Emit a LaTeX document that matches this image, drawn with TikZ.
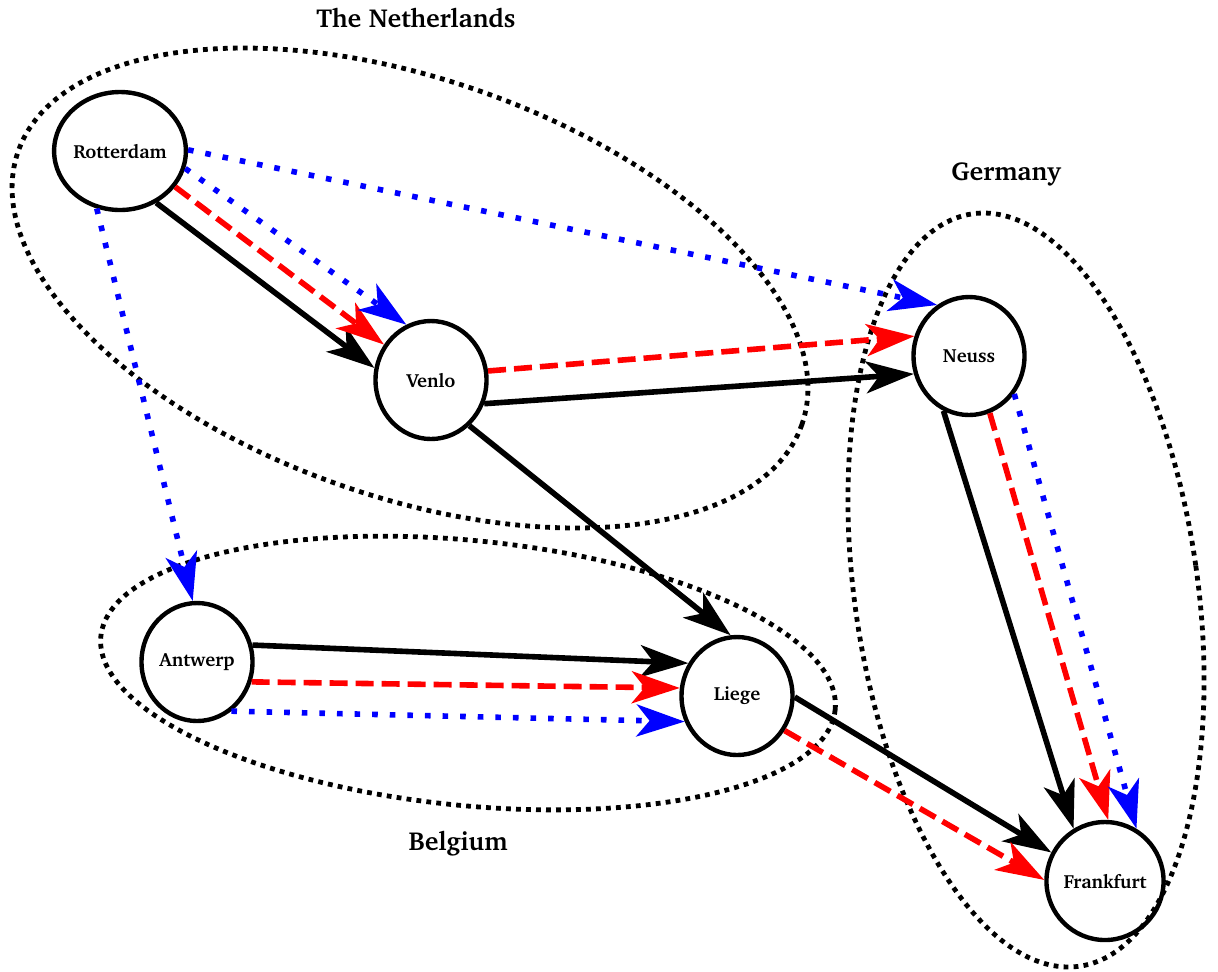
\documentclass[tikz,border=0pt]{standalone}
\usepackage[T1]{fontenc}
\usepackage{charter}
\usetikzlibrary{arrows.meta, shapes.geometric}
\tikzstyle{arrow} = [line width=2.8pt, -{Stealth[length=24pt, width=16pt, inset=6.5pt]}]
\tikzstyle{blackline} = [arrow, draw=black]
\tikzstyle{redline} = [arrow, draw=red, dash pattern=on 9pt off 4pt]
\tikzstyle{blueline} = [arrow, draw=blue, dash pattern=on 2.8pt off 6pt]
\tikzstyle{city} = [ellipse, draw=black, line width=2.2pt, minimum width=55.5pt, minimum height=59pt, inner sep=0pt, font=\bfseries\fontsize{9.5}{11}\selectfont]
\tikzstyle{country} = [draw=black, line width=2.4pt, dash pattern=on 2.4pt off 2.6pt]
\tikzstyle{title} = [font=\bfseries\fontsize{13}{15}\selectfont]

\begin{document}
\begin{tikzpicture}[x=0.5pt, y=-0.5pt]
\useasboundingbox (0,0) rectangle (1218,971);
% Placement of city nodes
\node (rotterdam) [city] at (120,151) {Rotterdam};
\node (venlo) [city] at (431,380) {Venlo};
\node (neuss) [city] at (969,356) {Neuss};
\node (antwerp) [city] at (197,662) {Antwerp};
\node (liege) [city] at (737,696) {Liege};
\node (frankfurt) [city] at (1105,881) {Frankfurt};

% Countries
\node (netherlands) [title] at (416,18) {The Netherlands};
\node (germany) [title] at (1006,174) {Germany};
\node (belgium) [title] at (458,843) {Belgium};
\draw [country] (410,288) circle [x radius=415, y radius=209, rotate=-19.2];
\draw [country] (1026,590) circle [x radius=171.5, y radius=380, rotate=8.1];
\draw [country] (468,673) circle [x radius=369, y radius=132.5, rotate=-5.7];

% Drawing of black lines
\draw [blackline] (rotterdam.-55) -- (venlo.168);
\draw [blackline] (venlo.-24) -- (neuss.198);
\draw [blackline] (venlo.-50) -- (liege.96);
\draw [blackline] (antwerp.17) -- (liege.146);
\draw [blackline] (neuss.245) -- (frankfurt.121);
\draw [blackline] (liege.-1) -- (frankfurt.152);

% Drawing of red lines
\draw [redline] (rotterdam.-33) -- (venlo.143);
\draw [redline] (venlo.9) -- (neuss.160);
\draw [redline] (antwerp.-20) -- (liege.172);
\draw [redline] (neuss.290) -- (frankfurt.87);
\draw [redline] (liege.-36) -- (frankfurt.179);

% Drawing of blue lines
\draw [blueline] (rotterdam.-15) -- (venlo.114);
\draw [blueline] (rotterdam.1) -- (neuss.122);
\draw [blueline] (rotterdam.-112) -- (antwerp.94);
\draw [blueline] (antwerp.-55) -- (liege.206);
\draw [blueline] (neuss.320) -- (frankfurt.59);

\end{tikzpicture}
\end{document}
